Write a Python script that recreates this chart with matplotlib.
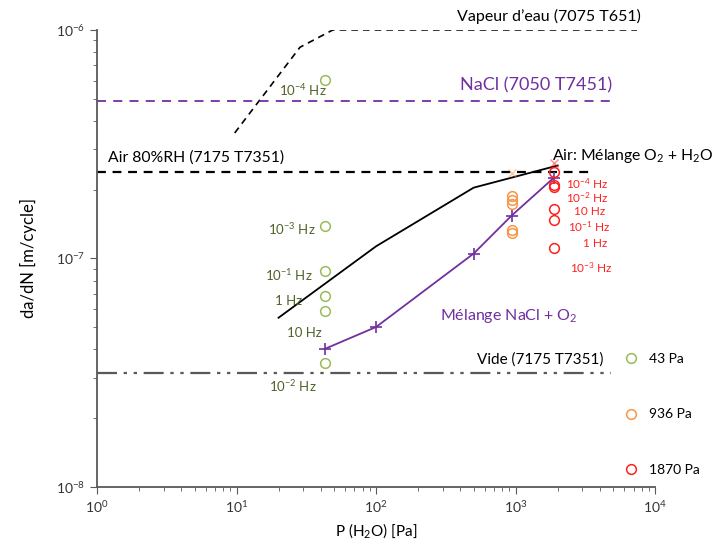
import matplotlib.pyplot as plt
from matplotlib.lines import Line2D

plt.rcParams["font.family"] = ["Lato", "DejaVu Sans"]
plt.rcParams["mathtext.fontset"] = "custom"
plt.rcParams["mathtext.rm"] = "Lato"
plt.rcParams["mathtext.it"] = "Lato:italic"
plt.rcParams["mathtext.bf"] = "Lato:bold"
plt.rcParams["mathtext.default"] = "regular"

# reference lines (literature)
vapeur_x = [9.7, 28.5, 49, 7400]
vapeur_y = [3.54e-7, 8.4e-7, 1.0e-6, 1.0e-6]
nacl_x = [1, 4800]
nacl_y = [4.9e-7, 4.9e-7]
air_x = [1, 3400]
air_y = [2.4e-7, 2.4e-7]
vide_x = [1, 4800]
vide_y = [3.15e-8, 3.15e-8]

# Air: melange O2 + H2O
melange_air_x = [20, 100, 500, 2000]
melange_air_y = [5.5e-8, 1.13e-7, 2.04e-7, 2.55e-7]

# Melange NaCl + O2
melange_nacl_x = [43, 100, 500, 936, 1870]
melange_nacl_y = [4.02e-8, 5.01e-8, 1.05e-7, 1.54e-7, 2.25e-7]

# measured points by pressure
p43_y = [6.04e-7, 1.39e-7, 8.8e-8, 6.86e-8, 5.89e-8, 3.49e-8]
p43_hz = ["10$^{-4}$ Hz", "10$^{-3}$ Hz", "10$^{-1}$ Hz", "1 Hz", "10 Hz", "10$^{-2}$ Hz"]
p936_y = [1.877e-7, 1.80e-7, 1.73e-7, 1.33e-7, 1.29e-7]
p1870_y = [2.39e-7, 2.10e-7, 2.06e-7, 1.65e-7, 1.47e-7, 1.11e-7]
p1870_hz = ["10$^{-4}$ Hz", "10$^{-2}$ Hz", "10 Hz", "10$^{-1}$ Hz", "1 Hz", "10$^{-3}$ Hz"]

purple = "#7030a0"
green = "#9bbb59"
green_txt = "#4f6228"
orange = "#f79646"
red = "#ff2020"
grey = "#595959"

fig = plt.figure(figsize=(7.13, 5.44), dpi=100)
ax = fig.add_axes([0.136, 0.105, 0.783, 0.840])
ax.set_xscale("log")
ax.set_yscale("log")
ax.set_xlim(1, 1e4)
ax.set_ylim(1e-8, 1e-6)

ax.plot(vapeur_x, vapeur_y, color="black", lw=1.2, dashes=(4, 3))
ax.plot(nacl_x, nacl_y, color=purple, lw=1.3, dashes=(5, 4))
ax.plot(air_x, air_y, color="black", lw=1.6, dashes=(4, 3))
ax.plot(vide_x, vide_y, color=grey, lw=1.6, dashes=(9, 3, 1.5, 3, 1.5, 3))

ax.plot(melange_air_x, melange_air_y, color="black", lw=1.3)
ax.plot(melange_nacl_x, melange_nacl_y, color=purple, lw=1.3,
        marker="+", ms=9, mew=1.2)

# faint crosses near the air curve
ax.plot([936], [2.37e-7], ls="none", marker="x", ms=6, color=orange, alpha=0.5)
ax.plot([1870], [2.62e-7], ls="none", marker="x", ms=6, color=red, alpha=0.5)

ax.plot([43] * len(p43_y), p43_y, ls="none", marker="o", ms=7, mfc="none",
        mec=green, mew=1.1)
ax.plot([936] * len(p936_y), p936_y, ls="none", marker="o", ms=7, mfc="none",
        mec=orange, mew=1.1)
ax.plot([1870] * len(p1870_y), p1870_y, ls="none", marker="o", ms=7, mfc="none",
        mec=red, mew=1.1)

# frequency labels (offsets in points, baseline anchored)
g_off = [(1.4, -11.5), (-6.5, -6.5), (-8.6, -7.2), (-16.6, -6.5),
         (-2.2, -18.7), (-5.8, -20.9)]
for y, lab, (dx, dy) in zip(p43_y, p43_hz, g_off):
    ax.annotate(lab, (43, y), xytext=(dx, dy), textcoords="offset points",
                ha="right", va="baseline", fontsize=9.5, color=green_txt)
r_off = [(8.6, -12.2), (8.6, -12.9), (15, -20.1), (10, -16.6), (21, -19.4),
         (12, -18)]
for y, lab, (dx, dy) in zip(p1870_y, p1870_hz, r_off):
    ax.annotate(lab, (1870, y), xytext=(dx, dy), textcoords="offset points",
                ha="left", va="baseline", fontsize=8.5, color=red)

ax.text(1740, 1.14e-6, "Vapeur d\u2019eau (7075 T651)", ha="center",
        va="center", fontsize=11.5)
ax.text(1400, 5.69e-7, "NaCl (7050 T7451)", ha="center", va="center",
        fontsize=13, color=purple)
ax.text(1.2, 2.75e-7, "Air 80%RH (7175 T7351)", ha="left", va="center",
        fontsize=11.3)
ax.text(1830, 2.81e-7, "Air: M\u00e9lange O$_2$ + H$_2$O", ha="left",
        va="center", fontsize=11.3, clip_on=False)
ax.text(900, 5.6e-8, "M\u00e9lange NaCl + O$_2$", ha="center", va="center",
        fontsize=11.5, color=purple)
ax.text(1500, 3.6e-8, "Vide (7175 T7351)", ha="center", va="center",
        fontsize=11)

handles = [Line2D([], [], ls="none", marker="o", ms=7, mfc="none", mec=c, mew=1.1)
           for c in (green, orange, red)]
ax.legend(handles, ["43 Pa", "936 Pa", "1870 Pa"], loc="upper left",
          bbox_to_anchor=(0.921, 0.321), frameon=False, fontsize=10,
          labelspacing=3.15, handlelength=1.0, handletextpad=0.8)

ax.set_xlabel("P (H$_2$O) [Pa]", fontsize=11, labelpad=4)
ax.set_ylabel("da/dN [m/cycle]", fontsize=12, labelpad=14)

for side in ("top", "right"):
    ax.spines[side].set_visible(False)
for side in ("left", "bottom"):
    ax.spines[side].set_color(grey)
    ax.spines[side].set_linewidth(1.3)
ax.tick_params(which="both", direction="out", color=grey, labelcolor="#333333")
ax.tick_params(which="major", length=5, labelsize=10)
ax.tick_params(which="minor", length=3)
ax.tick_params(axis="x", pad=4)

fig.savefig("out.png", dpi=100)
